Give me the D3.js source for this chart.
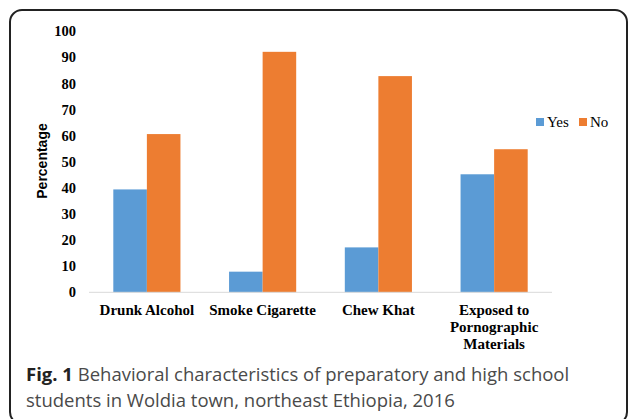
<!DOCTYPE html>
<html>
<head>
<meta charset="utf-8">
<script src="https://cdn.jsdelivr.net/npm/d3@7"></script>
<style>
  body { margin: 0; background: #fff; }
</style>
</head>
<body>
<svg></svg>
<script>
// chart data
let categories = ['Drunk Alcohol', 'Smoke Cigarette', 'Chew Khat', 'Exposed to|Pornographic|Materials'],
    series     = ['Yes', 'No'],
    yesValues  = [39.4, 7.9, 17.2, 45.2],
    noValues   = [60.6, 92.1, 82.8, 54.8],
    yTicks     = [0, 10, 20, 30, 40, 50, 60, 70, 80, 90, 100],
    colors     = ['#5B9BD5', '#ED7D31'];

let width  = 629,
    height = 419;

let rows = categories.map((c, i) => ({ cat: c, Yes: yesValues[i], No: noValues[i] }));

let svg = d3.select('svg')
            .attr('width', width)
            .attr('height', height);

// frame
svg.append('rect')
    .attr('x', 10).attr('y', 10)
    .attr('width', 617).attr('height', 414)
    .attr('rx', 12).attr('ry', 12)
    .attr('fill', 'none')
    .attr('stroke', '#222')
    .attr('stroke-width', 2);

let x0 = d3.scaleBand()
           .domain(categories)
           .range([89, 552])
           .paddingInner(0.42)
           .paddingOuter(0.21),
    x1 = d3.scaleBand()
           .domain(series)
           .range([0, x0.bandwidth()]),
    y  = d3.scaleLinear()
           .domain([0, 100])
           .range([292.3, 31.2]);

// y axis labels only
let yAxis = d3.axisLeft(y)
              .tickValues(yTicks)
              .tickSize(0)
              .tickPadding(13);
let gy = svg.append('g')
    .attr('transform', 'translate(89,0)')
    .call(yAxis);
gy.select('.domain').remove();
gy.selectAll('text')
    .attr('font-family', '"Liberation Serif", serif')
    .attr('font-weight', 'bold')
    .attr('font-size', 14.5)
    .attr('fill', '#000');

//Bars
svg.append('g')
    .selectAll('g')
    .data(rows)
    .enter()
    .append('g')
        .attr('transform', d => `translate(${x0(d.cat)},0)`)
    .selectAll('rect')
    .data(d => series.map(s => ({ key: s, value: d[s] })))
    .enter()
    .append('rect')
        .attr('x', d => x1(d.key))
        .attr('y', d => y(d.value))
        .attr('width', x1.bandwidth())
        .attr('height', d => y(0) - y(d.value))
        .attr('fill', (d, i) => colors[i]);

// baseline
svg.append('line')
    .attr('x1', 89).attr('x2', 552)
    .attr('y1', y(0)).attr('y2', y(0))
    .attr('stroke', '#D9D9D9')
    .attr('stroke-width', 1);

// x labels
let xl = svg.append('g')
    .selectAll('text')
    .data(categories)
    .enter()
    .append('text')
        .attr('x', d => x0(d) + x0.bandwidth() / 2)
        .attr('y', 315)
        .attr('text-anchor', 'middle')
        .attr('font-family', '"Liberation Serif", serif')
        .attr('font-weight', 'bold')
        .attr('font-size', 15)
        .attr('fill', '#000');
xl.each(function(d) {
    let parts = d.split('|');
    d3.select(this).selectAll('tspan')
        .data(parts)
        .enter()
        .append('tspan')
        .attr('x', x0(d) + x0.bandwidth() / 2)
        .attr('dy', (p, i) => i === 0 ? 0 : 17)
        .text(p => p);
});

// y title
svg.append('text')
    .attr('transform', 'rotate(-90)')
    .attr('x', -161)
    .attr('y', 47)
    .attr('text-anchor', 'middle')
    .attr('font-family', '"Liberation Sans", Arial, sans-serif')
    .attr('font-weight', 'bold')
    .attr('font-size', 14)
    .attr('fill', '#000')
    .text('Percentage');

// legend
let legX = [536, 579];
let leg = svg.append('g')
    .selectAll('g')
    .data(series)
    .enter()
    .append('g')
        .attr('transform', (d, i) => `translate(${legX[i]},118)`);
leg.append('rect')
    .attr('width', 8).attr('height', 8)
    .attr('fill', (d, i) => colors[i]);
leg.append('text')
    .attr('x', 11)
    .attr('y', 9)
    .attr('font-family', '"Liberation Serif", serif')
    .attr('font-size', 15)
    .attr('fill', '#000')
    .text(d => d);

// caption
let cap = svg.append('text')
    .attr('x', 26)
    .attr('y', 381)
    .attr('font-family', '"Open Sans", sans-serif')
    .attr('font-size', 18.5)
    .attr('fill', '#4a4a4a');
cap.append('tspan')
    .attr('font-weight', 'bold')
    .attr('fill', '#222')
    .text('Fig. 1');
cap.append('tspan')
    .text(' Behavioral characteristics of preparatory and high school');
svg.append('text')
    .attr('x', 26)
    .attr('y', 407)
    .attr('font-family', '"Open Sans", sans-serif')
    .attr('font-size', 18.5)
    .attr('fill', '#4a4a4a')
    .text('students in Woldia town, northeast Ethiopia, 2016');
</script>
</body>
</html>
